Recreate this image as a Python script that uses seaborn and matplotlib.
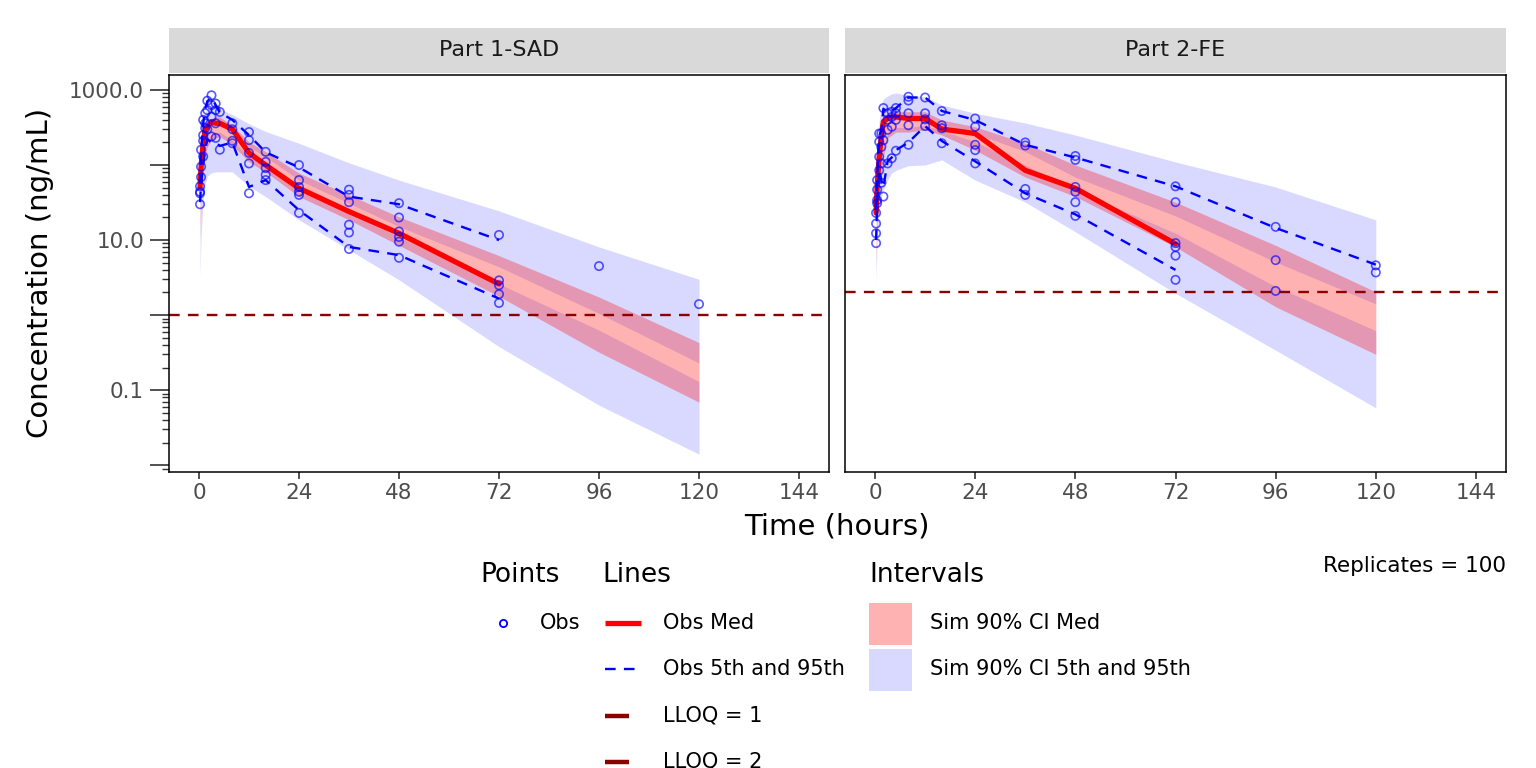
import pandas as pd
import seaborn as sns
import matplotlib.pyplot as plt
from matplotlib.ticker import FixedLocator, FixedFormatter, NullFormatter
from matplotlib.patches import Rectangle

sns.set_style("white")
plt.rcParams['font.family'] = ['DejaVu Sans']
plt.rcParams['text.color'] = 'black'

# ---------------- data (ng/mL) ----------------
panel_names = ["Part 1-SAD", "Part 2-FE"]
lloq = [1, 2]

# time bins
bin_time = [0.25, 0.5, 1, 1.5, 2, 3, 4, 5, 8, 12, 16, 24, 36, 48, 72]
sim_time = [0.25, 0.5, 1, 1.5, 2, 3, 4, 5, 8, 12, 16, 24, 36, 48, 72, 96, 120]
p95_time_2 = [0.25, 0.5, 1, 1.5, 2, 3, 4, 5, 8, 12, 16, 24, 36, 48, 72, 96, 120]

# observed points, Part 1
obs_time_1 = [0.25, 0.25, 0.25, 0.25, 0.5, 0.5, 0.5, 1, 1, 1, 1, 1.5, 1.5, 1.5,
              2, 2, 2, 3, 3, 3, 3, 4, 4, 4, 4, 5, 5, 8, 8, 8, 8,
              12, 12, 12, 12, 12, 16, 16, 16, 16, 16, 24, 24, 24, 24, 24, 24,
              36, 36, 36, 36, 36, 36, 48, 48, 48, 48, 48, 48,
              72, 72, 72, 72, 72, 96, 120]
obs_conc_1 = [30, 44, 42, 52, 69, 95, 160, 130, 210, 250, 400, 490, 310, 360,
              720, 540, 300, 850, 630, 440, 240, 660, 540, 360, 230, 510, 160, 360, 300, 210, 195,
              275, 215, 145, 105, 42, 150, 110, 91, 74, 63, 100, 63, 51, 44, 40, 23,
              47, 40, 32, 16, 12.6, 7.6, 31, 20, 13, 11, 9.5, 5.8,
              11.7, 2.9, 2.5, 1.9, 1.45, 4.5, 1.4]

# observed points, Part 2
obs_time_2 = [0.25, 0.25, 0.25, 0.25, 0.5, 0.5, 0.5, 0.5, 1, 1, 1, 1, 1.5, 1.5, 1.5, 1.5,
              2, 2, 2, 3, 3, 3, 3, 4, 4, 4, 4, 5, 5, 5, 5, 8, 8, 8, 8, 8,
              12, 12, 12, 12, 16, 16, 16, 16, 24, 24, 24, 24, 24, 36, 36, 36, 36,
              48, 48, 48, 48, 48, 48, 72, 72, 72, 72, 72, 72, 96, 96, 96, 120, 120]
obs_conc_2 = [9.1, 12.3, 16.6, 23, 31, 34, 47, 63, 85, 129, 204, 263, 58, 105, 174, 263,
              575, 38, 214, 490, 400, 295, 105, 513, 437, 324, 123, 575, 490, 400, 155,
              813, 724, 490, 339, 186, 794, 490, 407, 331, 525, 339, 309, 195,
              417, 324, 186, 158, 105, 200, 182, 48, 40,
              132, 117, 51, 44, 32, 21, 52, 32, 9.1, 8.1, 6.2, 2.95, 15, 5.4, 2.1, 4.6, 3.7]

# observed percentiles
obs_med_1 = [51, 95, 200, 300, 320, 380, 360, 360, 300, 145, 100, 49, 24, 12.3, 2.6]
obs_p05_1 = [32, 56, 100, 160, 220, 200, 200, 180, 200, 51, 63, 25, 8.1, 6.3, 1.66]
obs_p95_1 = [56, 140, 355, 560, 710, 790, 630, 500, 400, 250, 148, 93, 38, 30, 10]

obs_med_2 = [23, 51, 129, 240, 380, 417, 437, 437, 417, 417, 302, 263, 85, 49, 8.9]
obs_p05_2 = [10, 32, 89, 63, 50, 112, 126, 158, 200, 331, 209, 112, 42, 22, 4.0]
obs_p95_2 = [25, 63, 251, 282, 562, 501, 525, 575, 794, 794, 525, 398, 186, 126, 52, 14.5, 4.7]

# simulated 90% CI of 5th, median and 95th percentiles, Part 1
sim_p05_lo_1 = [3.2, 11, 35, 56, 71, 79, 81, 81, 81, 52, 38, 18.6, 7.4, 2.95, 0.38, 0.063, 0.014]
sim_p05_hi_1 = [12.6, 54, 120, 162, 200, 245, 263, 275, 214, 129, 95, 44, 24, 11, 2.6, 0.63, 0.13]
sim_med_lo_1 = [10, 47, 105, 141, 174, 214, 229, 240, 186, 110, 81, 38, 18.6, 8.5, 1.78, 0.32, 0.069]
sim_med_hi_1 = [63, 129, 240, 300, 363, 417, 437, 437, 339, 204, 151, 78, 40, 20.4, 6.2, 1.74, 0.43]
sim_p95_lo_1 = [50, 112, 209, 263, 316, 363, 380, 380, 295, 174, 129, 63, 31, 15.1, 4.4, 1.05, 0.23]
sim_p95_hi_1 = [80, 200, 400, 500, 560, 600, 600, 560, 470, 355, 280, 195, 107, 63, 24.5, 8.1, 3.0]

# simulated 90% CI, Part 2
sim_p05_lo_2 = [2.6, 10, 28, 38, 47, 63, 78, 85, 98, 100, 117, 63, 32, 12.9, 1.95, 0.34, 0.058]
sim_p05_hi_2 = [5.6, 19, 54, 102, 148, 263, 288, 316, 316, 339, 288, 204, 100, 47, 12.3, 2.4, 0.62]
sim_med_lo_2 = [4.4, 16.6, 47, 89, 129, 229, 251, 275, 275, 295, 251, 158, 69, 38, 8.1, 1.29, 0.30]
sim_med_hi_2 = [38, 63, 174, 282, 363, 437, 479, 513, 513, 513, 398, 324, 195, 100, 32, 8.5, 2.04]
sim_p95_lo_2 = [32, 55, 151, 245, 316, 380, 417, 447, 447, 447, 347, 263, 151, 69, 21, 5.1, 1.41]
sim_p95_hi_2 = [50, 158, 398, 631, 759, 832, 891, 912, 851, 813, 631, 490, 363, 251, 110, 51, 18.6]

x_ticks = [0, 24, 48, 72, 96, 120, 144]
y_ticks = [0.01, 0.1, 1, 10, 100, 1000]
y_tick_labels = ["", "0.1", "", "10.0", "", "1000.0"]

panels = [
    dict(name=panel_names[0], lloq=lloq[0],
         obs=pd.DataFrame({"time": obs_time_1, "conc": obs_conc_1}),
         med=obs_med_1, p05=obs_p05_1, p95=obs_p95_1, p95_t=bin_time,
         sim=(sim_p05_lo_1, sim_p05_hi_1, sim_med_lo_1, sim_med_hi_1, sim_p95_lo_1, sim_p95_hi_1)),
    dict(name=panel_names[1], lloq=lloq[1],
         obs=pd.DataFrame({"time": obs_time_2, "conc": obs_conc_2}),
         med=obs_med_2, p05=obs_p05_2, p95=obs_p95_2, p95_t=p95_time_2,
         sim=(sim_p05_lo_2, sim_p05_hi_2, sim_med_lo_2, sim_med_hi_2, sim_p95_lo_2, sim_p95_hi_2)),
]

# ---------------- figure ----------------
W, H = 1536, 768
fig = plt.figure(figsize=(W / 100, H / 100), dpi=100)


def px_box(x0, y0, x1, y1):
    return [x0 / W, 1 - y1 / H, (x1 - x0) / W, (y1 - y0) / H]


panel_x = [(169, 829), (845, 1506)]
dash = (4.5, 3.5)

for i, p in enumerate(panels):
    x0, x1 = panel_x[i]
    ax = fig.add_axes(px_box(x0, 75, x1, 472))
    ax.set_yscale('log')

    p05_lo, p05_hi, med_lo, med_hi, p95_lo, p95_hi = p["sim"]
    ax.fill_between(sim_time, p05_lo, p05_hi, color='blue', alpha=0.15, lw=0)
    ax.fill_between(sim_time, p95_lo, p95_hi, color='blue', alpha=0.15, lw=0)
    ax.fill_between(sim_time, med_lo, med_hi, color='red', alpha=0.3, lw=0)

    sns.lineplot(x=bin_time, y=p["med"], ax=ax, color='red', linewidth=3.8,
                 estimator=None, sort=False)
    sns.lineplot(x=bin_time, y=p["p05"], ax=ax, color='blue', linewidth=1.7,
                 estimator=None, sort=False)
    ax.lines[-1].set_dashes(dash)
    sns.lineplot(x=p["p95_t"], y=p["p95"], ax=ax, color='blue', linewidth=1.7,
                 estimator=None, sort=False)
    ax.lines[-1].set_dashes(dash)

    hl = ax.axhline(p["lloq"], color='darkred', lw=1.7)
    hl.set_dashes(dash)

    sns.scatterplot(data=p["obs"], x="time", y="conc", ax=ax, color='blue',
                    s=36, linewidth=1.2, alpha=0.65, zorder=5)
    pts = ax.collections[-1]
    pts.set_facecolor('none')
    pts.set_edgecolor('blue')

    ax.set_xlim(-7.2, 151.2)
    ax.set_ylim(0.0081, 1585)
    ax.set_xticks(x_ticks)
    ax.set_xticklabels([str(t) for t in x_ticks])
    ax.set_xlabel("")
    ax.set_ylabel("")
    ax.tick_params(axis='x', length=5, width=1.2, color='#333333',
                   labelsize=15.5, labelcolor='#4d4d4d', pad=3, bottom=True)

    if i == 0:
        ax.yaxis.set_major_locator(FixedLocator(y_ticks))
        ax.yaxis.set_major_formatter(FixedFormatter(y_tick_labels))
        minor = [m * 10.0 ** e for e in range(-3, 4) for m in range(2, 10)]
        ax.yaxis.set_minor_locator(FixedLocator(minor))
        ax.yaxis.set_minor_formatter(NullFormatter())
        ax.tick_params(axis='y', which='major', length=14, width=1.2, color='#333333',
                       labelsize=15.5, labelcolor='#4d4d4d', pad=4, left=True)
        ax.tick_params(axis='y', which='minor', length=5, width=1.0, color='#333333', left=True)
    else:
        ax.yaxis.set_major_locator(FixedLocator(y_ticks))
        ax.yaxis.set_major_formatter(NullFormatter())
        ax.yaxis.set_minor_formatter(NullFormatter())
        ax.tick_params(axis='y', which='both', left=False, length=0)

    for s in ax.spines.values():
        s.set_color('black')
        s.set_linewidth(1.1)

    # facet strip
    sx = fig.add_axes(px_box(x0, 28, x1, 73))
    sx.set_facecolor('#d9d9d9')
    sx.set_xticks([])
    sx.set_yticks([])
    for s in sx.spines.values():
        s.set_visible(False)
    sx.text(0.5, 0.5, p["name"], ha='center', va='center', fontsize=16,
            color='#1a1a1a', transform=sx.transAxes)

fig.text(40 / W, 1 - 273 / H, "Concentration (ng/mL)", rotation=90,
         ha='center', va='center', fontsize=21)
fig.text(837 / W, 1 - 527 / H, "Time (hours)", ha='center', va='center', fontsize=21)

# ---------------- legend ----------------
lg = fig.add_axes([0, 0, 1, 1], facecolor='none')
lg.set_xlim(0, W)
lg.set_ylim(H, 0)
lg.axis('off')

lg.text(1506, 566, "Replicates = 100", ha='right', va='center', fontsize=15.5)

lg.text(480, 575, "Points", va='center', fontsize=19)
lg.text(602, 575, "Lines", va='center', fontsize=19)
lg.text(869, 575, "Intervals", va='center', fontsize=19)

lg.plot([503], [623], marker='o', mfc='none', mec='blue', ms=5.2, mew=1.3)
lg.text(540, 623, "Obs", va='center', fontsize=15)

line_rows = [623, 669, 716, 762]
line_labels = ["Obs Med", "Obs 5th and 95th", "LLOQ = 1", "LLOQ = 2"]
lg.plot([605, 641], [line_rows[0]] * 2, color='red', lw=3.8, solid_capstyle='butt')
k = lg.plot([605, 641], [line_rows[1]] * 2, color='blue', lw=1.7, dash_capstyle='butt')[0]
k.set_dashes(dash)
lg.plot([605, 629], [line_rows[2]] * 2, color='darkred', lw=3.2, solid_capstyle='butt')
lg.plot([605, 629], [line_rows[3]] * 2, color='darkred', lw=3.2, solid_capstyle='butt')
for yy, lab in zip(line_rows, line_labels):
    lg.text(663, yy, lab, va='center', fontsize=15)

lg.add_patch(Rectangle((869, 603), 43, 42, facecolor='red', alpha=0.3, lw=0))
lg.add_patch(Rectangle((869, 649), 43, 42, facecolor='blue', alpha=0.15, lw=0))
lg.text(930, 623, "Sim 90% CI Med", va='center', fontsize=15)
lg.text(930, 669, "Sim 90% CI 5th and 95th", va='center', fontsize=15)

fig.savefig("out.png", dpi=100)
